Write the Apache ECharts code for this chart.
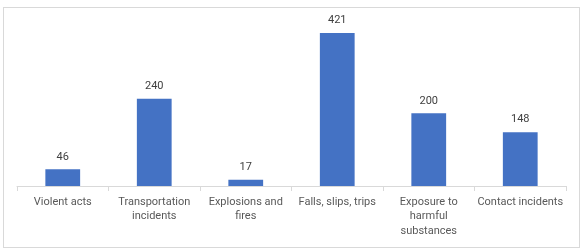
<!DOCTYPE html>
<html><head><meta charset="utf-8">
<script src="https://cdn.jsdelivr.net/npm/echarts@6/dist/echarts.min.js"></script>
<style>
html,body{margin:0;padding:0;background:#fff;}
#frame{position:absolute;left:3px;top:7px;width:575px;height:239px;border:1px solid #d9d9d9;box-sizing:content-box;}
#c{position:absolute;left:0;top:0;width:582px;height:248px;}
</style></head><body>
<div id="frame"></div>
<div id="c"></div>
<script>
const categories = ['Violent acts','Transportation\nincidents','Explosions and\nfires','Falls, slips, trips','Exposure to\nharmful\nsubstances','Contact incidents'];
const values = [46, 240, 17, 421, 200, 148];
const yMax = 450;

const chart = echarts.init(document.getElementById('c'), null, {renderer:'canvas'});
chart.setOption({
  animation:false,
  grid:{left:17, right:16, top:22.5, bottom:62, containLabel:false},
  xAxis:{
    type:'category', data:categories,
    axisLine:{lineStyle:{color:'#d9d9d9', width:1}},
    axisTick:{show:true, length:5, lineStyle:{color:'#d9d9d9'}},
    axisLabel:{color:'#595959', fontFamily:'Roboto', fontSize:11, lineHeight:14.3, margin:9, interval:0}
  },
  yAxis:{type:'value', min:0, max:yMax, show:false, splitLine:{show:false}},
  series:[{
    type:'bar', data:values, barWidth:'38%',
    itemStyle:{color:'#4472C4'},
    label:{show:true, position:'top', distance:7, color:'#404040', fontFamily:'Roboto', fontSize:11}
  }]
});
</script>
</body></html>
